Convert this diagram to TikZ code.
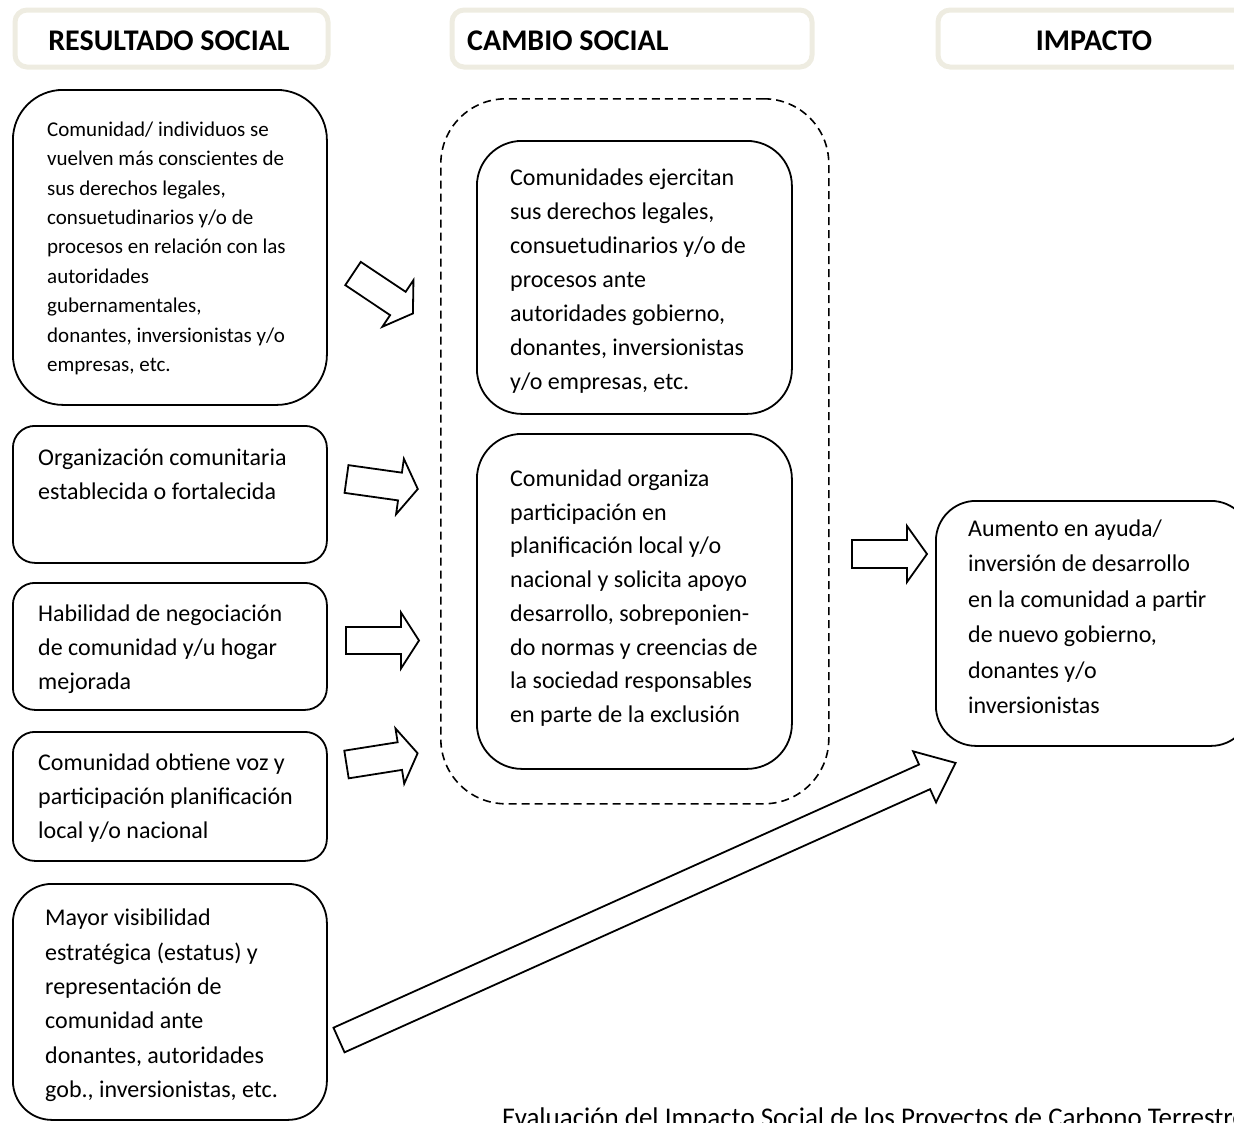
\documentclass[tikz,border=0pt]{standalone}
\usepackage{fontspec}
\setmainfont{Carlito}
\definecolor{hdrline}{HTML}{EEECE1}
\tikzset{
  pics/blockarrow/.style n args={4}{code={
    % tail centre at the origin, tip at (#1,0); half shaft #2, half head #3, head length #4
    \coordinate (-tail) at (0,0);
    \coordinate (-tip) at (#1,0);
    \draw[arrowline] (0,#2) -- ({#1-#4},#2) -- ({#1-#4},#3) -- (#1,0)
      -- ({#1-#4},-#3) -- ({#1-#4},-#2) -- (0,-#2) -- cycle;
  }}
}
\begin{document}
\begin{tikzpicture}[x=1pt,y=-1pt,
  hdr/.style={draw=hdrline, line width=5pt, rounded corners=12pt, inner sep=0pt, anchor=north west},
  hdrtxt/.style={font=\bfseries\fontsize{30}{36}\selectfont, inner sep=0pt},
  box/.style={draw, line width=1.8pt, rounded corners=#1, inner sep=0pt, anchor=north west},
  box/.default=22pt,
  frame/.style={draw, line width=1.6pt, dash pattern=on 8pt off 5pt, rounded corners=65pt, inner sep=0pt, anchor=north west},
  bodytxt/.style={font=\fontsize{24}{34}\selectfont, align=left, inner sep=0pt, anchor=north west},
  smalltxt/.style={font=\fontsize{21}{29.4}\selectfont, align=left, inner sep=0pt, anchor=north west},
  impacttxt/.style={font=\fontsize{24}{35.5}\selectfont, align=left, inner sep=0pt, anchor=north west},
  arrowline/.style={draw, line width=1.8pt, fill=white, line join=miter},
]
\useasboundingbox (0,0) rectangle (1234,1122);
\clip (0,0) rectangle (1234,1122);

% column headers
\node[hdr, minimum width=313pt, minimum height=57pt] (h1) at (12.5,7.5) {};
\node[hdrtxt, anchor=base] (h1t) at (169,50) {RESULTADO SOCIAL};
\node[hdr, minimum width=360pt, minimum height=57pt] (h2) at (449.5,7.5) {};
\node[hdrtxt, anchor=base west] (h2t) at (467,50) {CAMBIO SOCIAL};
\node[hdr, minimum width=313pt, minimum height=57pt] (h3) at (935.5,7.5) {};
\node[hdrtxt, anchor=base] (h3t) at (1094,50) {IMPACTO};

% social results
\node[box=50pt, minimum width=314pt, minimum height=315pt] (b1) at (12,89) {};
\node[smalltxt] (b1t) at (47,115.5) {\strut Comunidad/ individuos se\\ vuelven más conscientes de\\ sus derechos legales,\\ consuetudinarios y/o de\\ procesos en relación con las\\ autoridades\\ gubernamentales,\\ donantes, inversionistas y/o\\ empresas, etc.};

\node[box, minimum width=314pt, minimum height=137pt] (b2) at (12,425) {};
\node[bodytxt] (b2t) at (38,441.7) {\strut Organización comunitaria\\ establecida o fortalecida};

\node[box, minimum width=314pt, minimum height=127pt] (b3) at (12,582) {};
\node[bodytxt] (b3t) at (38,597.7) {\strut Habilidad de negociación\\ de comunidad y/u hogar\\ mejorada};

\node[box, minimum width=314pt, minimum height=129pt] (b4) at (12,731) {};
\node[bodytxt] (b4t) at (38,746.5) {\strut Comunidad obtiene voz y\\ participación planificación\\ local y/o nacional};

\node[box=39pt, minimum width=314pt, minimum height=236pt] (b5) at (12,883) {};
\node[bodytxt, font=\fontsize{24}{34.4}\selectfont] (b5t) at (45,901.5) {\strut Mayor visibilidad\\ estratégica (estatus) y\\ representación de\\ comunidad ante\\ donantes, autoridades\\ gob., inversionistas, etc.};

% social change
\node[frame, minimum width=388pt, minimum height=705pt] (cf) at (440,98) {};
\node[box=45pt, minimum width=315pt, minimum height=273pt] (c1) at (476,140) {};
\node[bodytxt] (c1t) at (510,161.7) {\strut Comunidades ejercitan\\ sus derechos legales,\\ consuetudinarios y/o de\\ procesos ante\\ autoridades gobierno,\\ donantes, inversionistas\\ y/o empresas, etc.};
\node[box=45pt, minimum width=315pt, minimum height=335pt] (c2) at (476,433) {};
\node[bodytxt, font=\fontsize{24}{33.7}\selectfont] (c2t) at (510,462.7) {\strut Comunidad organiza\\ participación en\\ planificación local y/o\\ nacional y solicita apoyo\\ desarrollo, sobreponien-\\ do normas y creencias de\\ la sociedad responsables\\ en parte de la exclusión};

% impact
\node[box=40pt, minimum width=315pt, minimum height=245pt] (r1) at (935,500) {};
\node[impacttxt] (r1t) at (968,511) {\strut Aumento en ayuda/\\ inversión de desarrollo\\ en la comunidad a partir\\ de nuevo gobierno,\\ donantes y/o\\ inversionistas};

% block arrows
\pic[rotate=-33.7] (a1) at (353,273.5) {blockarrow={72}{14}{28}{18}};
\pic[rotate=-8] (a2) at (346.5,479) {blockarrow={72}{14}{28}{18}};
\pic (a3) at (346,640.5) {blockarrow={73}{13.5}{28}{18}};
\pic[rotate=9] (a4) at (346.5,764.5) {blockarrow={72}{14}{28}{18}};
\pic (a5) at (852,554) {blockarrow={75}{14}{28}{20}};
\pic[rotate=24.2] (a6) at (339,1040) {blockarrow={676}{13.5}{28}{34}};

% source line
\node[font=\fontsize{27}{32}\selectfont, inner sep=0pt, anchor=base west] (src) at (502,1126) {Evaluación del Impacto Social de los Proyectos de Carbono Terrestre};
\end{tikzpicture}
\end{document}
